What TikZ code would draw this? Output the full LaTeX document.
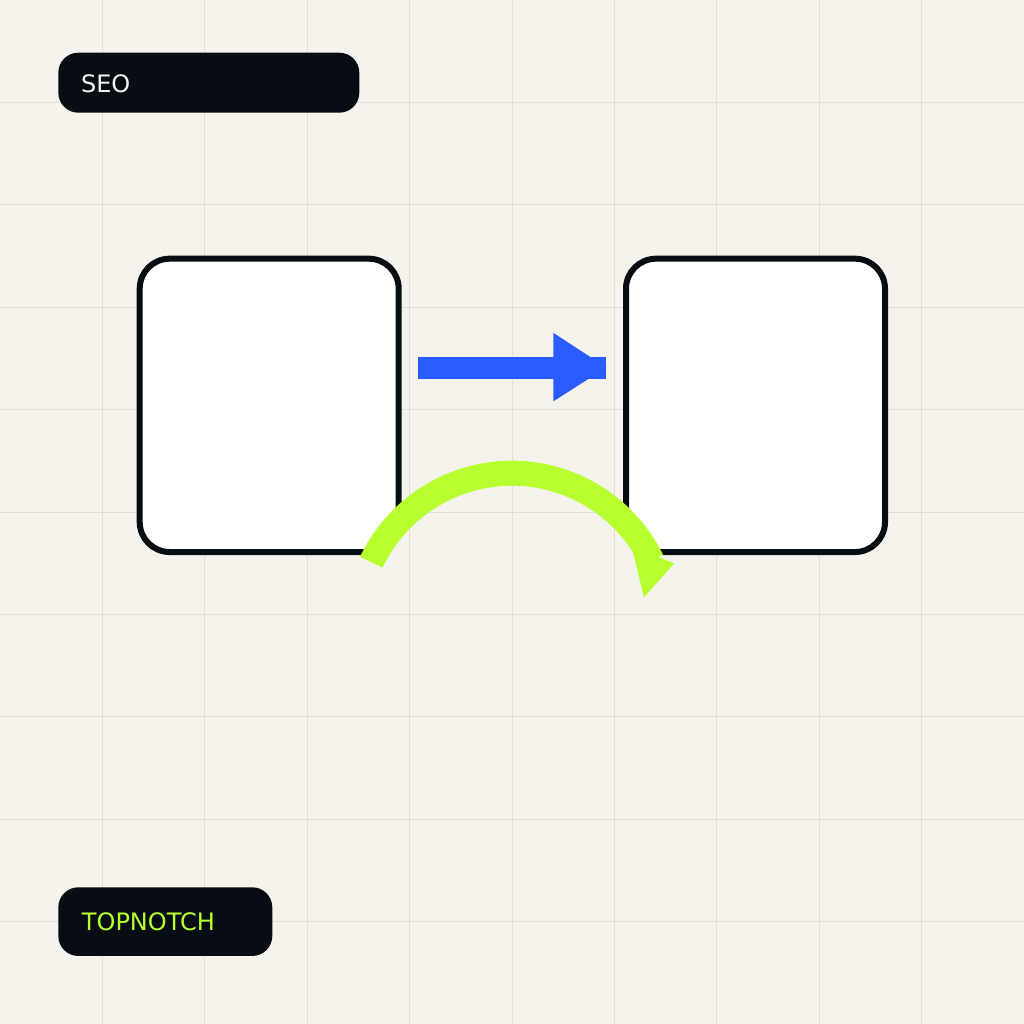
\documentclass[tikz,border=0pt]{standalone}
\usepackage{fontspec}
\setmainfont{DejaVu Sans}
\usetikzlibrary{calc}
\definecolor{bgc}{HTML}{F6F3EC}
\definecolor{gridc}{HTML}{E4DFD6}
\definecolor{darkc}{HTML}{080D14}
\definecolor{bluec}{HTML}{2B5CFF}
\definecolor{limec}{HTML}{B8FF2F}
\definecolor{lightc}{HTML}{F2F2F2}
\begin{document}
\begin{tikzpicture}[x=0.75pt,y=-0.75pt,
  gridline/.style={draw=gridc,line width=0.75pt},
  pill/.style={fill=darkc,rounded corners=15pt,inner sep=0pt,outer sep=0pt,anchor=north west},
  pilltext/.style={font=\fontsize{18pt}{20pt}\selectfont,inner sep=0pt,anchor=west},
  card/.style={draw=darkc,fill=white,line width=4.5pt,rounded corners=22.5pt,minimum width=194.25pt,minimum height=220pt,inner sep=0pt},
  blueshaft/.style={draw=bluec,line width=16.5pt},
  limearc/.style={draw=limec,line width=18.75pt},
]
\useasboundingbox (0,0) rectangle (1024,1024);
\fill[bgc] (0,0) rectangle (1024,1024);
\foreach \i in {1,...,9}{
  \draw[gridline] (\i*102.4,0) -- (\i*102.4,1024);
  \draw[gridline] (0,\i*102.4) -- (1024,\i*102.4);
}
% pills
\node[pill,minimum width=225.75pt,minimum height=45pt] (seo) at (58.3,52.7) {};
\node[pilltext,text=lightc] (seot) at (80.8,83.7) {SEO};
\node[pill,minimum width=160.5pt,minimum height=51.5pt] (top) at (58.3,887.3) {};
\node[pilltext,text=limec] (topt) at (81.7,921.5) {TOPNOTCH};
% cards
\node[card] (L) at (269.2,405.35) {};
\node[card] (R) at (755.5,405.35) {};
% blue arrow
\coordinate (bs) at ($(L.east)+(16.6,-37.85)$);
\coordinate (be) at ($(R.west)+(-17,-37.85)$);
\draw[blueshaft] (bs) -- (be);
\fill[bluec] ($(be)+(-52.6,-34.6)$) -- ($(be)+(0.4,0)$) -- ($(be)+(-52.6,33.8)$) -- cycle;
% lime arc with head
\coordinate (a0) at (371.3,562.2);
\draw[limearc] (a0) arc[start angle=205.4,end angle=333.8,radius=155.8] coordinate (a1);
\coordinate (h1) at (631.7,546.7);
\coordinate (h2) at (674.3,563.3);
\coordinate (h3) at (644,597.3);
\fill[limec] (h1) -- (h2) -- (h3) -- cycle;
\end{tikzpicture}
\end{document}
